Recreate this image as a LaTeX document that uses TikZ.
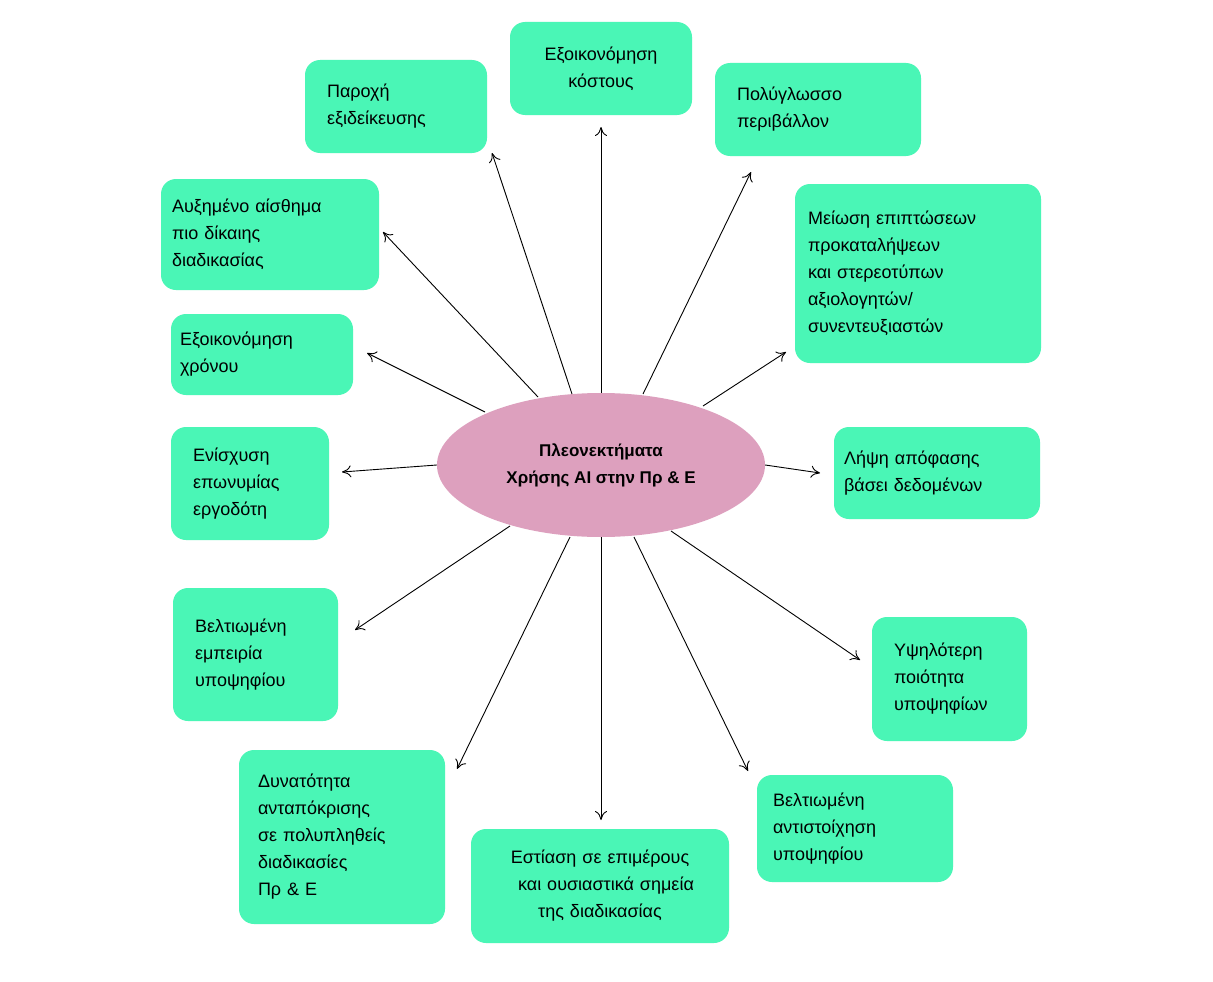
\documentclass[tikz,border=0pt]{standalone}
\usetikzlibrary{shapes.geometric,arrows.meta}
\usepackage{fontspec}
\setmainfont{Liberation Sans}
\begin{document}
\begin{tikzpicture}[x=1pt,y=-1pt,
 box/.style={fill=boxg,rounded corners=15pt,inner sep=0pt,font=\fontsize{18}{27}\selectfont},
 arr/.style={->,>={To[length=9pt,width=12pt,open]},line width=0.9pt}]
\definecolor{boxg}{HTML}{4AF6B6}
\definecolor{pinkc}{HTML}{DDA0BE}
\useasboundingbox[fill=white] (0,0) rectangle (1213,982);
\newcommand\bx[7]{% name, l,t,r,b, align, text
 \node[box,minimum width={#4-#2},minimum height={#5-#3},text width={#4-#2-44},align=#6] (#1) at ({(#2+#4)/2},{(#3+#5)/2}) {#7};}
\bx{b1}{305}{60}{487}{153}{left}{Παροχή\\εξιδείκευσης}
\bx{b2}{510}{22}{692}{115}{center}{Εξοικονόμηση\\κόστους}
\bx{b3}{715}{63}{921}{156}{left}{Πολύγλωσσο\\περιβάλλον}
\node[box,minimum width=246,minimum height=179,text width=220,align=left] (b4) at (918,273.5) {Μείωση επιπτώσεων\\προκαταλήψεων\\και στερεοτύπων\\αξιολογητών/\\συνεντευξιαστών};
\node[box,minimum width=206,minimum height=92,text width=186,align=left] (b5) at (937,473) {Λήψη απόφασης\\βάσει δεδομένων};
\bx{b6}{872}{617}{1027}{741}{left}{Υψηλότερη\\ποιότητα\\υποψηφίων}
\node[box,minimum width=196,minimum height=107,text width=164,align=left] (b7) at (855,828.5) {Βελτιωμένη\\αντιστοίχηση\\υποψηφίου};
\node[box,minimum width=258,minimum height=114,text width=240,align=center] (b8) at (600,886) {Εστίαση σε επιμέρους\\\ \ και ουσιαστικά σημεία\\της διαδικασίας};
\node[box,minimum width=206,minimum height=174,text width=168,align=left] (b9) at (342,837) {Δυνατότητα\\ανταπόκρισης\\σε πολυπληθείς\\διαδικασίες\\Πρ \& Ε};
\bx{b10}{173}{588}{338}{721}{left}{Βελτιωμένη\\εμπειρία\\υποψηφίου}
\bx{b11}{171}{427}{329}{540}{left}{Ενίσχυση\\επωνυμίας\\εργοδότη}
\node[box,minimum width=182,minimum height=81,text width=164,align=left] (b12) at (262,354.5) {Εξοικονόμηση\\χρόνου};
\node[box,minimum width=218,minimum height=111,text width=196,align=left] (b13) at (270,234.5) {Αυξημένο αίσθημα\\πιο δίκαιης\\διαδικασίας};
\node[ellipse,fill=pinkc,minimum width=328,minimum height=144,inner sep=0pt,align=center,font=\bfseries\fontsize{17}{27}\selectfont] (c) at (601,465) {Πλεονεκτήματα\\Χρήσης AI στην Πρ \& Ε};
\coordinate (t1) at (492,153); \coordinate (t2) at (601,127); \coordinate (t3) at (751,172);
\coordinate (t4) at (786,352); \coordinate (t5) at (820,473); \coordinate (t6) at (860,660);
\coordinate (t7) at (748,771); \coordinate (t8) at (601,820); \coordinate (t9) at (457,769);
\coordinate (t10) at (355,630); \coordinate (t11) at (342,472); \coordinate (t12) at (367,353);
\coordinate (t13) at (383,232);
\draw[arr] (572,394) -- (t1);
\draw[arr] (c.north) -- (t2);
\draw[arr] (643,394) -- (t3);
\draw[arr] (703,406) -- (t4);
\draw[arr] (c.east) -- (t5);
\draw[arr] (671,531) -- (t6);
\draw[arr] (634,537) -- (t7);
\draw[arr] (c.south) -- (t8);
\draw[arr] (570,537) -- (t9);
\draw[arr] (510,526) -- (t10);
\draw[arr] (c.west) -- (t11);
\draw[arr] (485,412) -- (t12);
\draw[arr] (538,397) -- (t13);
\end{tikzpicture}
\end{document}
